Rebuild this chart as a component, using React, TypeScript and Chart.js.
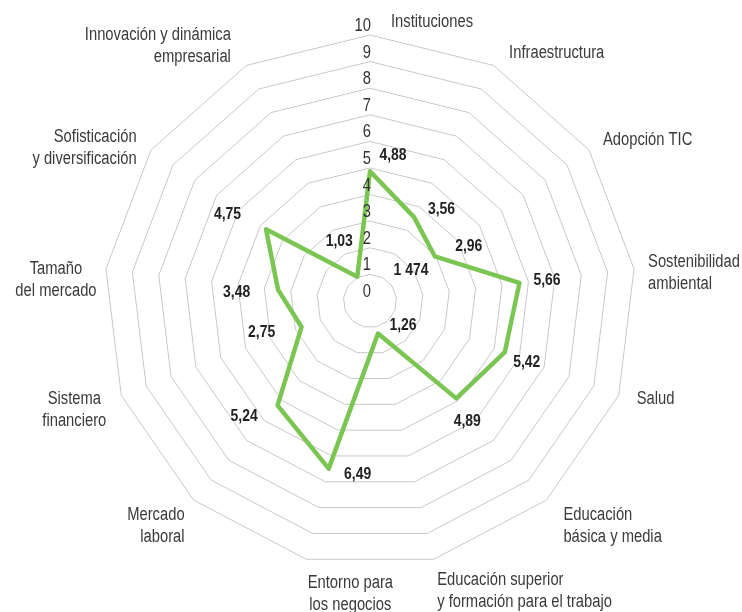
import React, { useEffect, useRef } from 'react';
import { Chart, registerables } from 'chart.js';

Chart.register(...registerables);

const categories: string[][] = [
  ['Instituciones'],
  ['Infraestructura'],
  ['Adopción TIC'],
  ['Sostenibilidad', 'ambiental'],
  ['Salud'],
  ['Educación', 'básica y media'],
  ['Educación superior', 'y formación para el trabajo'],
  ['Entorno para', 'los negocios'],
  ['Mercado', 'laboral'],
  ['Sistema', 'financiero'],
  ['Tamaño', 'del mercado'],
  ['Sofisticación', 'y diversificación'],
  ['Innovación y dinámica', 'empresarial'],
];

const values: number[] = [4.88, 3.56, 2.96, 5.66, 5.42, 4.89, 1.26, 6.49, 5.24, 2.75, 3.48, 4.75, 1.03];

const tickValues: number[] = [0, 1, 2, 3, 4, 5, 6, 7, 8, 9, 10];

const centerNote = '1 474';

// layout (offsets from the outer vertex for category labels)
const catLayout: { dx: number; dy: number; align: CanvasTextAlign }[] = [
  { dx: 21, dy: -13, align: 'left' },
  { dx: 15.5, dy: -12.5, align: 'left' },
  { dx: 14, dy: -10, align: 'left' },
  { dx: 14, dy: -7, align: 'left' },
  { dx: 18, dy: 3.5, align: 'left' },
  { dx: 17, dy: 15, align: 'left' },
  { dx: 3.5, dy: 21, align: 'left' },
  { dx: 44, dy: 24, align: 'center' },
  { dx: -9, dy: 15, align: 'right' },
  { dx: -47, dy: 4, align: 'center' },
  { dx: -50, dy: 0, align: 'center' },
  { dx: -14.5, dy: -13, align: 'right' },
  { dx: -15.5, dy: -30.5, align: 'right' },
];

// offsets of value labels from their points
const valLayout: [number, number][] = [
  [23, -16], [27.5, -8], [34, -10], [27.5, -3], [22, 10], [11, 23], [25, -8],
  [29, 6], [-33.5, 10.5], [-40, 5], [-41.5, 2], [-38.5, -15], [-18, -35.5],
];

const FONT = "'Liberation Sans', Arial, sans-serif";
const SX = 0.82; // horizontal condensing (narrow face)
const fmt = (v: number) => v.toFixed(2).replace('.', ',');

function drawText(ctx: CanvasRenderingContext2D, text: string, x: number, y: number, align: CanvasTextAlign) {
  ctx.save();
  ctx.translate(x, y);
  ctx.scale(SX, 1);
  ctx.textAlign = align;
  ctx.fillText(text, 0, 0);
  ctx.restore();
}

const textPlugin = {
  id: 'radarTexts',
  afterDatasetsDraw(chart: any) {
    const scale = chart.scales.r;
    const ctx = chart.ctx;
    ctx.save();
    ctx.textBaseline = 'middle';
    // tick labels
    ctx.fillStyle = '#333333';
    ctx.font = `18px ${FONT}`;
    tickValues.forEach((t) => {
      const d = scale.getDistanceFromCenterForValue(t);
      drawText(ctx, String(t), scale.xCenter + 1, scale.yCenter - d - 9, 'right');
    });
    // category labels
    ctx.fillStyle = '#3a3a3a';
    ctx.font = `18px ${FONT}`;
    categories.forEach((lines, i) => {
      const p = scale.getPointPosition(i, scale.drawingArea);
      const L = catLayout[i];
      lines.forEach((ln, j) => {
        drawText(ctx, ln, p.x + L.dx, p.y + L.dy + j * 22, L.align);
      });
    });
    // value labels
    ctx.fillStyle = '#222222';
    ctx.font = `bold 17px ${FONT}`;
    values.forEach((v, i) => {
      const p = scale.getPointPosition(i, scale.getDistanceFromCenterForValue(v));
      const [dx, dy] = valLayout[i];
      drawText(ctx, fmt(v), p.x + dx, p.y + dy, 'center');
    });
    drawText(ctx, centerNote, scale.xCenter + 41, scale.yCenter - 30.5, 'center');
    ctx.restore();
  },
};

export default function App() {
  const ref = useRef<HTMLCanvasElement | null>(null);
  useEffect(() => {
    if (!ref.current) return;
    const chart = new Chart(ref.current, {
      type: 'radar',
      data: {
        labels: categories,
        datasets: [
          {
            data: values,
            borderColor: '#7BC652',
            borderWidth: 4.5,
            borderJoinStyle: 'round',
            pointRadius: 0,
            fill: false,
            tension: 0,
          },
        ],
      },
      options: {
        responsive: false,
        animation: false,
        layout: { padding: { left: 0, right: 2, top: 35, bottom: 45 } },
        plugins: { legend: { display: false }, tooltip: { enabled: false } },
        scales: {
          r: {
            min: 0,
            max: 10,
            ticks: { display: false, stepSize: 1 },
            pointLabels: { display: false },
            angleLines: { display: false },
            grid: { color: '#c8c8c8', lineWidth: 1, circular: false },
          },
        },
      },
      plugins: [textPlugin],
    });
    return () => chart.destroy();
  }, []);
  return (
    <div style={{ position: 'absolute', left: 0, top: 0, width: 742, height: 612, background: '#fff' }}>
      <canvas ref={ref} width={742} height={612} />
    </div>
  );
}
